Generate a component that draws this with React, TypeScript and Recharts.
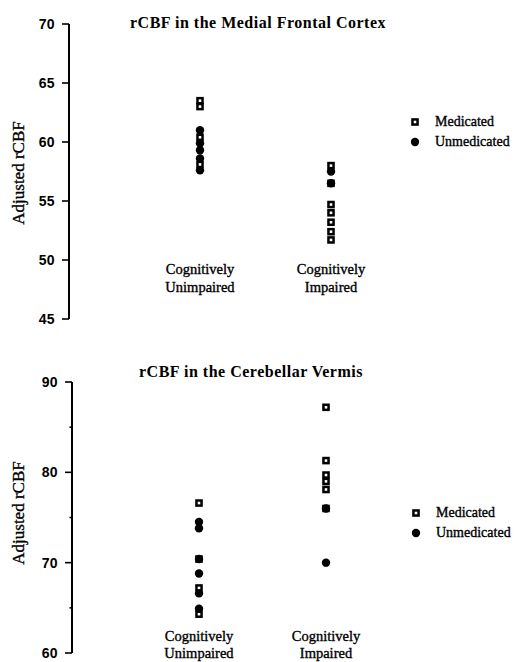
import React from 'react';
import { ScatterChart, Scatter, XAxis, YAxis, Legend } from 'recharts';

const categories = [['Cognitively', 'Unimpaired'], ['Cognitively', 'Impaired']];
const seriesNames = ['Medicated', 'Unmedicated'];

const frontalTitle = 'rCBF in the Medial Frontal Cortex';
const frontalTicks = [45, 50, 55, 60, 65, 70];
const frontalMajor = [45, 50, 55, 60, 65, 70];
const frontalMedUnimpaired = [63.5, 63.0, 60.4, 58.1];
const frontalUnmedUnimpaired = [61.0, 59.9, 59.3, 58.6, 57.6];
const frontalMedImpaired = [58.0, 56.5, 54.7, 54.0, 53.2, 52.4, 51.7];
const frontalUnmedImpaired = [57.5, 56.5];

const vermisTitle = 'rCBF in the Cerebellar Vermis';
const vermisTicks = [60, 65, 70, 75, 80, 85, 90];
const vermisMajor = [60, 70, 80, 90];
const vermisMedUnimpaired = [76.6, 70.4, 67.2, 64.3];
const vermisUnmedUnimpaired = [74.5, 73.8, 70.4, 68.8, 66.6, 64.9];
const vermisMedImpaired = [87.2, 81.3, 79.7, 79.0, 78.1, 76.0];
const vermisUnmedImpaired = [76.0, 70.0];

const toPoints = (unimpaired: number[], impaired: number[]) => [
  ...unimpaired.map((y) => ({ x: 1, y })),
  ...impaired.map((y) => ({ x: 2, y })),
];

const serifText = { fontFamily: 'Liberation Serif', fill: '#000', stroke: '#000', strokeWidth: 0.35 } as any;

const SquareMark = (props: any) => {
  const { cx, cy } = props;
  if (cx == null || cy == null) return null;
  return (
    <g>
      <rect x={cx - 3.8} y={cy - 3.8} width={7.6} height={7.6} fill="#000" />
      <rect x={cx - 1.3} y={cy - 1.3} width={2.6} height={2.6} fill="#fff" />
    </g>
  );
};

const CircleMark = (props: any) => {
  const { cx, cy } = props;
  if (cx == null || cy == null) return null;
  return <circle cx={cx} cy={cy} r={4.2} fill="#000" />;
};

const makeYTick = (major: number[]) => (props: any) => {
  const { x, y, payload } = props;
  const ax = x + 9;
  const isMajor = major.includes(payload.value);
  return (
    <g>
      <line x1={ax - (isMajor ? 7 : 2.5)} x2={ax} y1={y} y2={y} stroke="#000" strokeWidth={1.6} />
      {isMajor && (
        <text
          x={ax - 14}
          y={y}
          dy="0.36em"
          textAnchor="end"
          fill="#000"
          style={{ fontFamily: 'Liberation Sans', fontWeight: 700, fontSize: 14, letterSpacing: 0.4 }}
        >
          {payload.value}
        </text>
      )}
    </g>
  );
};

const makeXTick = (dy1: number, dy2: number) => (props: any) => {
  const { x, y, payload } = props;
  const lines = categories[payload.value - 1];
  if (!lines) return null;
  const st = { ...serifText, fontSize: 14.5 };
  return (
    <g>
      <text x={x} y={y + dy1} textAnchor="middle" style={st}>{lines[0]}</text>
      <text x={x} y={y + dy2} textAnchor="middle" style={st}>{lines[1]}</text>
    </g>
  );
};

const LegendBox = () => (
  <svg width={113} height={44} style={{ display: 'block' }}>
    <rect x={6.2} y={8.2} width={7.6} height={7.6} fill="#000" />
    <rect x={8.7} y={10.7} width={2.6} height={2.6} fill="#fff" />
    <text x={30} y={16} style={{ ...serifText, fontSize: 14 }}>{seriesNames[0]}</text>
    <circle cx={10} cy={32} r={4.2} fill="#000" />
    <text x={30} y={36} style={{ ...serifText, fontSize: 14 }}>{seriesNames[1]}</text>
  </svg>
);

type PanelProps = {
  top: number;
  height: number;
  title: string;
  titleX: number;
  titleY: number;
  ticks: number[];
  major: number[];
  med: { x: number; y: number }[];
  unmed: { x: number; y: number }[];
  margin: { top: number; right: number; bottom: number; left: number };
  axisWidth: number;
  labelCenterY: number;
  xDy: [number, number];
  legendPos: { left: number; top: number };
};

const Panel = (p: PanelProps) => {
  const domain = [p.ticks[0], p.ticks[p.ticks.length - 1]];
  return (
    <div style={{ position: 'absolute', left: 0, top: p.top, width: 518, height: p.height }}>
      <ScatterChart width={518} height={p.height} margin={p.margin}>
        <XAxis
          dataKey="x"
          type="number"
          domain={[0, 3]}
          ticks={[1, 2]}
          axisLine={false}
          tickLine={false}
          tickSize={0}
          tickMargin={0}
          height={1}
          interval={0}
          tick={makeXTick(p.xDy[0], p.xDy[1])}
        />
        <YAxis
          dataKey="y"
          type="number"
          domain={domain}
          ticks={p.ticks}
          interval={0}
          width={p.axisWidth}
          tickSize={6}
          tickMargin={3}
          tickLine={false}
          axisLine={{ stroke: '#000', strokeWidth: 2 }}
          tick={makeYTick(p.major)}
          label={{
            content: () => (
              <text
                x={18}
                y={p.labelCenterY}
                textAnchor="middle"
                dominantBaseline="central"
                transform={`rotate(-90, 18, ${p.labelCenterY})`}
                style={{ ...serifText, fontSize: 17 }}
              >
                Adjusted rCBF
              </text>
            ),
          }}
        />
        <Legend
          layout="vertical"
          align="center"
          verticalAlign="middle"
          content={() => <LegendBox />}
          wrapperStyle={{ left: p.legendPos.left, top: p.legendPos.top, width: 113, height: 44 }}
        />
        <Scatter name={seriesNames[0]} data={p.med} shape={SquareMark} isAnimationActive={false} />
        <Scatter name={seriesNames[1]} data={p.unmed} shape={CircleMark} isAnimationActive={false} />
      </ScatterChart>
      <svg
        width={518}
        height={40}
        style={{ position: 'absolute', left: 0, top: p.titleY - 24, pointerEvents: 'none' }}
      >
        <text
          x={p.titleX}
          y={24}
          textAnchor="middle"
          style={{ fontFamily: 'Liberation Serif', fontWeight: 700, fontSize: 16, fill: '#000', letterSpacing: 0.5 }}
        >
          {p.title}
        </text>
      </svg>
    </div>
  );
};

export default function App() {
  return (
    <div style={{ position: 'absolute', left: 0, top: 0, width: 518, height: 662, background: '#fff' }}>
      <Panel
        top={0}
        height={330}
        title={frontalTitle}
        titleX={258}
        titleY={28}
        ticks={frontalTicks}
        major={frontalMajor}
        med={toPoints(frontalMedUnimpaired, frontalMedImpaired)}
        unmed={toPoints(frontalUnmedUnimpaired, frontalUnmedImpaired)}
        margin={{ top: 24, right: 56, bottom: 10, left: 0 }}
        axisWidth={69}
        labelCenterY={173}
        xDy={[-45, -27]}
        legendPos={{ left: 405, top: 110 }}
      />
      <Panel
        top={330}
        height={332}
        title={vermisTitle}
        titleX={251}
        titleY={47}
        ticks={vermisTicks}
        major={vermisMajor}
        med={toPoints(vermisMedUnimpaired, vermisMedImpaired)}
        unmed={toPoints(vermisUnmedUnimpaired, vermisUnmedImpaired)}
        margin={{ top: 52, right: 65, bottom: 8, left: 0 }}
        axisWidth={72}
        labelCenterY={183}
        xDy={[-12, 5]}
        legendPos={{ left: 406, top: 171 }}
      />
    </div>
  );
}
